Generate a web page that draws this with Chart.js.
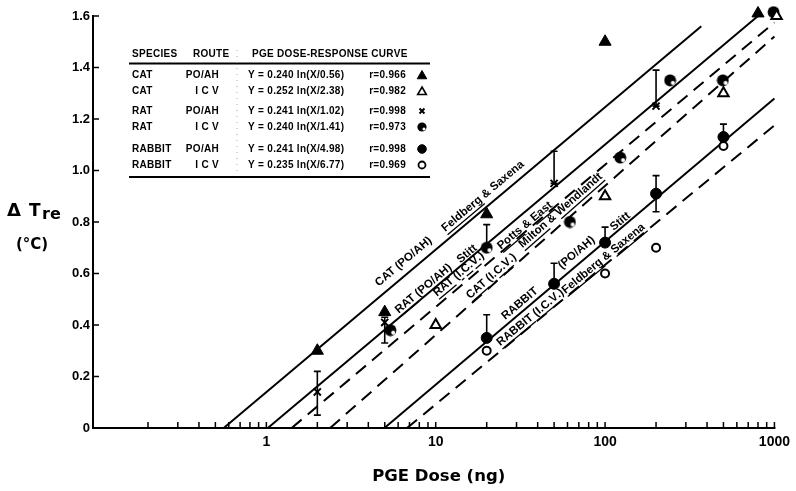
<!DOCTYPE html>
<html><head><meta charset="utf-8">
<script src="https://cdn.jsdelivr.net/npm/chart.js@4/dist/chart.umd.min.js"></script>
<style>html,body{margin:0;padding:0;background:#fff}#wrap{width:796px;height:491px}</style>
</head><body><div id="wrap"><canvas id="c" width="796" height="491"></canvas></div>
<script>
// ---- axis ticks ----
const xDecades = [0.1, 1, 10, 100];
const xMultipliers = [1, 2, 3, 4, 5, 6, 7, 8, 9];
const xMajorValues = [1, 10, 100, 1000];
const xMajorLabels = ['1', '10', '100', '1000'];
const yTickValues = [0, 0.2, 0.4, 0.6, 0.8, 1.0, 1.2, 1.4, 1.6];
const yTickLabels = ['0', '0.2', '0.4', '0.6', '0.8', '1.0', '1.2', '1.4', '1.6'];
const xTickValues = [];
xDecades.forEach(d => xMultipliers.forEach(m => xTickValues.push(+(d * m).toPrecision(3))));
xTickValues.push(1000);

// ---- data points ----
const catPoX = [2, 5, 20, 100, 800];
const catPoY = [0.30, 0.45, 0.83, 1.50, 1.61];
const catIcvX = [10, 100, 500, 1030];
const catIcvY = [0.40, 0.90, 1.30, 1.60];
const ratPoX = [2, 5, 50, 200];
const ratPoY = [0.14, 0.41, 0.95, 1.25];
const ratIcvX = [5.4, 20, 62, 123, 242, 496, 988];
const ratIcvY = [0.38, 0.70, 0.80, 1.05, 1.35, 1.35, 1.615];
const rabPoX = [20, 50, 100, 200, 500];
const rabPoY = [0.35, 0.56, 0.72, 0.91, 1.13];
const rabIcvX = [20, 100, 200, 500];
const rabIcvY = [0.30, 0.60, 0.70, 1.095];

// ---- error bars ----
const errX  = [2, 5, 50, 200, 20, 20, 50, 100, 200, 500];
const errLo = [0.05, 0.33, 0.95, 1.25, 0.70, 0.35, 0.56, 0.72, 0.84, 1.13];
const errHi = [0.22, 0.43, 1.075, 1.39, 0.79, 0.44, 0.64, 0.78, 0.98, 1.18];

// ---- regression lines (end points) ----
const catPoLineX = [0.56, 370];   const catPoLineY = [0, 1.56];
const ratPoLineX = [1.02, 800];   const ratPoLineY = [0, 1.60];
const ratIcvLineX = [1.41, 1000]; const ratIcvLineY = [0, 1.575];
const catIcvLineX = [2.38, 1000]; const catIcvLineY = [0, 1.52];
const rabPoLineX = [4.98, 1000];  const rabPoLineY = [0, 1.28];
const rabIcvLineX = [6.77, 1000]; const rabIcvLineY = [0, 1.175];

// ---- line annotations ----
const annoText = ['CAT (PO/AH)', '_Feldberg_ & Saxena', '_RAT_ (PO/AH)', 'Stitt', '_RAT_ (_I_._C_._V_.)', '_Potts_ & _East_',
  '_CAT_ (_I_._C_._V_.)', '_Milton_ & _Wendlandt_', 'RABBIT', '(PO/AH)', 'Stitt', '_RABBIT_ (_I_._C_._V_.)', '_Feldberg_ & _Saxena_'];
const annoX = [6.46, 19, 8.47, 15.3, 13.6, 33.6, 21.2, 54.7, 31.4, 67.9, 123, 36.0, 97.9];
const annoY = [0.646, 0.90, 0.541, 0.676, 0.596, 0.786, 0.588, 0.845, 0.483, 0.681, 0.802, 0.428, 0.658];
const annoLine = [0, 0, 1, 1, 2, 2, 3, 3, 4, 4, 4, 5, 5];

// ---- table ----
const tblSpecies = ['CAT', 'CAT', 'RAT', 'RAT', 'RABBIT', 'RABBIT'];
const tblRoute = ['PO/AH', 'I C V', 'PO/AH', 'I C V', 'PO/AH', 'I C V'];
const tblCurve = ['Y = 0.240 ln(X/0.56)', 'Y = 0.252 ln(X/2.38)', 'Y = 0.241 ln(X/1.02)', 'Y = 0.240 ln(X/1.41)', 'Y = 0.241 ln(X/4.98)', 'Y = 0.235 ln(X/6.77)'];
const tblR = ['r=0.966', 'r=0.982', 'r=0.998', 'r=0.973', 'r=0.998', 'r=0.969'];

// marker image for RAT I.C.V.
const ratIcvImg = document.createElement('canvas');
ratIcvImg.width = 13; ratIcvImg.height = 13;
(function () {
  const g = ratIcvImg.getContext('2d');
  g.fillStyle = '#000'; g.beginPath(); g.arc(6.5, 6.5, 5.9, 0, Math.PI * 2); g.fill();
  g.fillStyle = '#fff'; g.beginPath(); g.arc(9.2, 9.0, 2.0, 0, Math.PI * 2); g.fill();
})();
const ratIcvImgS = document.createElement('canvas');
ratIcvImgS.width = 10; ratIcvImgS.height = 10;
(function () {
  const g = ratIcvImgS.getContext('2d');
  g.fillStyle = '#000'; g.beginPath(); g.arc(5, 5, 4.6, 0, Math.PI * 2); g.fill();
  g.fillStyle = '#fff'; g.beginPath(); g.arc(7, 7, 1.5, 0, Math.PI * 2); g.fill();
})();

const pts = (xs, ys) => xs.map((v, i) => ({ x: v, y: ys[i] }));
const lineDefs = [
  [catPoLineX, catPoLineY, []], [ratPoLineX, ratPoLineY, []], [ratIcvLineX, ratIcvLineY, [13, 8]],
  [catIcvLineX, catIcvLineY, [13, 8]], [rabPoLineX, rabPoLineY, []], [rabIcvLineX, rabIcvLineY, [13, 8]]
];
const markerStyles = [
  { pointStyle: 'triangle', radius: 7, bg: '#000', bw: 1 },
  { pointStyle: 'triangle', radius: 6, bg: '#fff', bw: 2 },
  { pointStyle: 'crossRot', radius: 5, bg: '#000', bw: 2 },
  { pointStyle: ratIcvImg, radius: 6, bg: '#000', bw: 0 },
  { pointStyle: 'circle', radius: 5.5, bg: '#000', bw: 1 },
  { pointStyle: 'circle', radius: 4, bg: '#fff', bw: 2 }
];
const seriesX = [catPoX, catIcvX, ratPoX, ratIcvX, rabPoX, rabIcvX];
const seriesY = [catPoY, catIcvY, ratPoY, ratIcvY, rabPoY, rabIcvY];
const seriesNames = ['CAT PO/AH', 'CAT ICV', 'RAT PO/AH', 'RAT ICV', 'RABBIT PO/AH', 'RABBIT ICV'];

const datasets = [];
seriesX.forEach((xs, i) => {
  const m = markerStyles[i];
  datasets.push({
    label: seriesNames[i], data: pts(xs, seriesY[i]), showLine: false, order: 0, clip: false,
    pointStyle: m.pointStyle, pointRadius: m.radius, pointHoverRadius: m.radius,
    backgroundColor: m.bg, borderColor: '#000', pointBorderWidth: m.bw, borderWidth: m.bw
  });
});
lineDefs.forEach((l, i) => {
  datasets.push({
    label: seriesNames[i] + ' fit', data: pts(l[0], l[1]), showLine: true, order: 1, clip: false,
    pointRadius: 0, borderColor: '#000', borderWidth: 2, borderDash: l[2], fill: false
  });
});

const decor = {
  id: 'decor',
  beforeDatasetsDraw(chart) {
    const { ctx, chartArea: a, scales: { x, y } } = chart;
    ctx.save();
    ctx.strokeStyle = '#000';
    ctx.lineWidth = 2;
    const axX = a.left - 4;
    ctx.beginPath();
    ctx.moveTo(axX, y.getPixelForValue(1.6) - 1);
    ctx.lineTo(axX, a.bottom);
    ctx.lineTo(a.right + 1, a.bottom);
    ctx.stroke();
    ctx.lineWidth = 1.5;
    yTickValues.forEach(v => {
      if (v === 0) return;
      const py = y.getPixelForValue(v);
      ctx.beginPath(); ctx.moveTo(axX, py); ctx.lineTo(axX + 6, py); ctx.stroke();
    });
    xTickValues.forEach(v => {
      if (v === 0.1) return;
      const px = x.getPixelForValue(v);
      ctx.beginPath(); ctx.moveTo(px, a.bottom); ctx.lineTo(px, a.bottom - 6); ctx.stroke();
    });
    ctx.lineWidth = 1.6;
    errX.forEach((v, i) => {
      const px = x.getPixelForValue(v), p1 = y.getPixelForValue(errLo[i]), p2 = y.getPixelForValue(errHi[i]);
      ctx.beginPath();
      ctx.moveTo(px, p1); ctx.lineTo(px, p2);
      ctx.moveTo(px - 3.5, p2); ctx.lineTo(px + 3.5, p2);
      ctx.moveTo(px - 3.5, p1); ctx.lineTo(px + 3.5, p1);
      ctx.stroke();
    });
    ctx.restore();
  },
  afterDatasetsDraw(chart) {
    const { ctx, chartArea: a, scales: { x, y } } = chart;
    ctx.save();
    ctx.fillStyle = '#000';
    ctx.strokeStyle = '#000';
    // diagonal annotations
    ctx.font = 'bold 11.5px "Liberation Sans", Arial, sans-serif';
    ctx.textAlign = 'left';
    ctx.textBaseline = 'middle';
    annoText.forEach((t, i) => {
      const l = lineDefs[annoLine[i]];
      const ax = x.getPixelForValue(l[0][0]), ay = y.getPixelForValue(l[1][0]);
      const bx = x.getPixelForValue(l[0][1]), by = y.getPixelForValue(l[1][1]);
      const ang = Math.atan2(by - ay, bx - ax);
      const px = x.getPixelForValue(annoX[i]), py = y.getPixelForValue(annoY[i]);
      const segs = t.split('_');
      const w = ctx.measureText(segs.join('')).width;
      ctx.save();
      ctx.translate(px, py); ctx.rotate(ang);
      let cx = -w / 2;
      segs.forEach((s, k) => {
        ctx.fillText(s, cx, 0);
        const sw = ctx.measureText(s).width;
        if (k % 2 === 1) ctx.fillRect(cx, 6, sw, 1.3);
        cx += sw;
      });
      ctx.restore();
    });

    // table
    const L = 129, R = 430;
    ctx.font = 'bold 10px "Liberation Sans", Arial, sans-serif';
    ctx.letterSpacing = '0.3px';
    ctx.textBaseline = 'middle';
    ctx.textAlign = 'left';
    ctx.fillText('SPECIES', 132, 54);
    ctx.fillText('ROUTE', 193, 54);
    ctx.fillText('PGE DOSE-RESPONSE CURVE', 252, 54);
    ctx.lineWidth = 2;
    ctx.beginPath(); ctx.moveTo(L, 63.5); ctx.lineTo(R, 63.5); ctx.moveTo(L, 177); ctx.lineTo(R, 177); ctx.stroke();
    ctx.save();
    ctx.strokeStyle = '#aaa'; ctx.lineWidth = 1; ctx.setLineDash([1, 5]);
    ctx.beginPath(); ctx.moveTo(237, 50); ctx.lineTo(237, 176); ctx.stroke();
    ctx.restore();
    const rowY = [75, 91, 111, 127, 149, 165];
    const tblMarkers = [
      { pointStyle: 'triangle', radius: 5.5, borderWidth: 1, bg: '#000' },
      { pointStyle: 'triangle', radius: 5, borderWidth: 1.6, bg: '#fff' },
      { pointStyle: 'crossRot', radius: 3.5, borderWidth: 2, bg: '#000' },
      { pointStyle: ratIcvImgS, radius: 5, borderWidth: 0, bg: '#000' },
      { pointStyle: 'circle', radius: 4.3, borderWidth: 1, bg: '#000' },
      { pointStyle: 'circle', radius: 3.5, borderWidth: 1.8, bg: '#fff' }
    ];
    rowY.forEach((ry, i) => {
      ctx.fillStyle = '#000';
      ctx.textAlign = 'left';
      ctx.fillText(tblSpecies[i], 132, ry);
      ctx.textAlign = 'right';
      ctx.fillText(tblRoute[i], 219, ry);
      ctx.textAlign = 'left';
      ctx.fillText(tblCurve[i], 248, ry);
      ctx.textAlign = 'right';
      ctx.fillText(tblR[i], 406, ry);
      const m = tblMarkers[i];
      ctx.fillStyle = m.bg; ctx.strokeStyle = '#000'; ctx.lineWidth = m.borderWidth;
      Chart.helpers.drawPoint(ctx, { pointStyle: m.pointStyle, radius: m.radius, borderWidth: m.borderWidth, rotation: 0 }, 422, ry + (m.pointStyle === 'triangle' ? 1 : 0));
    });
    ctx.letterSpacing = '0px';

    // axis titles
    ctx.fillStyle = '#000';
    ctx.textAlign = 'center';
    ctx.textBaseline = 'middle';
    ctx.font = 'bold 16.5px "DejaVu Sans", sans-serif';
    ctx.fillText('PGE Dose (ng)', (a.left + a.right) / 2 + 3, 477);
    ctx.textAlign = 'left';
    ctx.textBaseline = 'alphabetic';
    ctx.font = 'bold 18px "DejaVu Sans", sans-serif';
    ctx.fillText('Δ', 7, 216);
    ctx.font = 'bold 17px "DejaVu Sans", sans-serif';
    ctx.fillText('T', 29, 216);
    ctx.font = 'bold 16px "DejaVu Sans", sans-serif';
    ctx.fillText('re', 42, 219);
    ctx.font = 'bold 15px "DejaVu Sans", sans-serif';
    ctx.textAlign = 'center';
    ctx.textBaseline = 'middle';
    ctx.fillText('(°C)', 32, 245);
    ctx.restore();
  }
};

new Chart(document.getElementById('c'), {
  type: 'scatter',
  data: { datasets },
  plugins: [decor],
  options: {
    responsive: false,
    animation: false,
    devicePixelRatio: 1,
    layout: { padding: { top: 16, right: 18, left: 0, bottom: 0 } },
    plugins: { legend: { display: false }, tooltip: { enabled: false }, title: { display: false } },
    scales: {
      x: {
        type: 'logarithmic', min: 0.1, max: 1000, position: 'bottom',
        grid: { display: false, drawTicks: false }, border: { display: false },
        afterBuildTicks: s => { s.ticks = xTickValues.map(v => ({ value: v, major: xMajorValues.includes(v) })); },
        afterFit: s => { s.height = 63; },
        ticks: {
          autoSkip: false, maxRotation: 0, minRotation: 0, padding: 6, color: '#000',
          font: { family: '"Liberation Sans", Arial, sans-serif', size: 14, weight: 'bold' },
          callback: v => { const k = xMajorValues.indexOf(v); return k >= 0 ? xMajorLabels[k] : ''; }
        }
      },
      y: {
        type: 'linear', min: 0, max: 1.6, position: 'left',
        grid: { display: false, drawTicks: false }, border: { display: false },
        afterBuildTicks: s => { s.ticks = yTickValues.map(v => ({ value: v })); },
        afterFit: s => { s.width = 97; },
        ticks: {
          padding: 7, color: '#000',
          font: { family: '"Liberation Sans Narrow", "Liberation Sans", Arial, sans-serif', size: 13, weight: 'bold' },
          callback: (v, i) => yTickLabels[i]
        }
      }
    }
  }
});
</script>
</body></html>
